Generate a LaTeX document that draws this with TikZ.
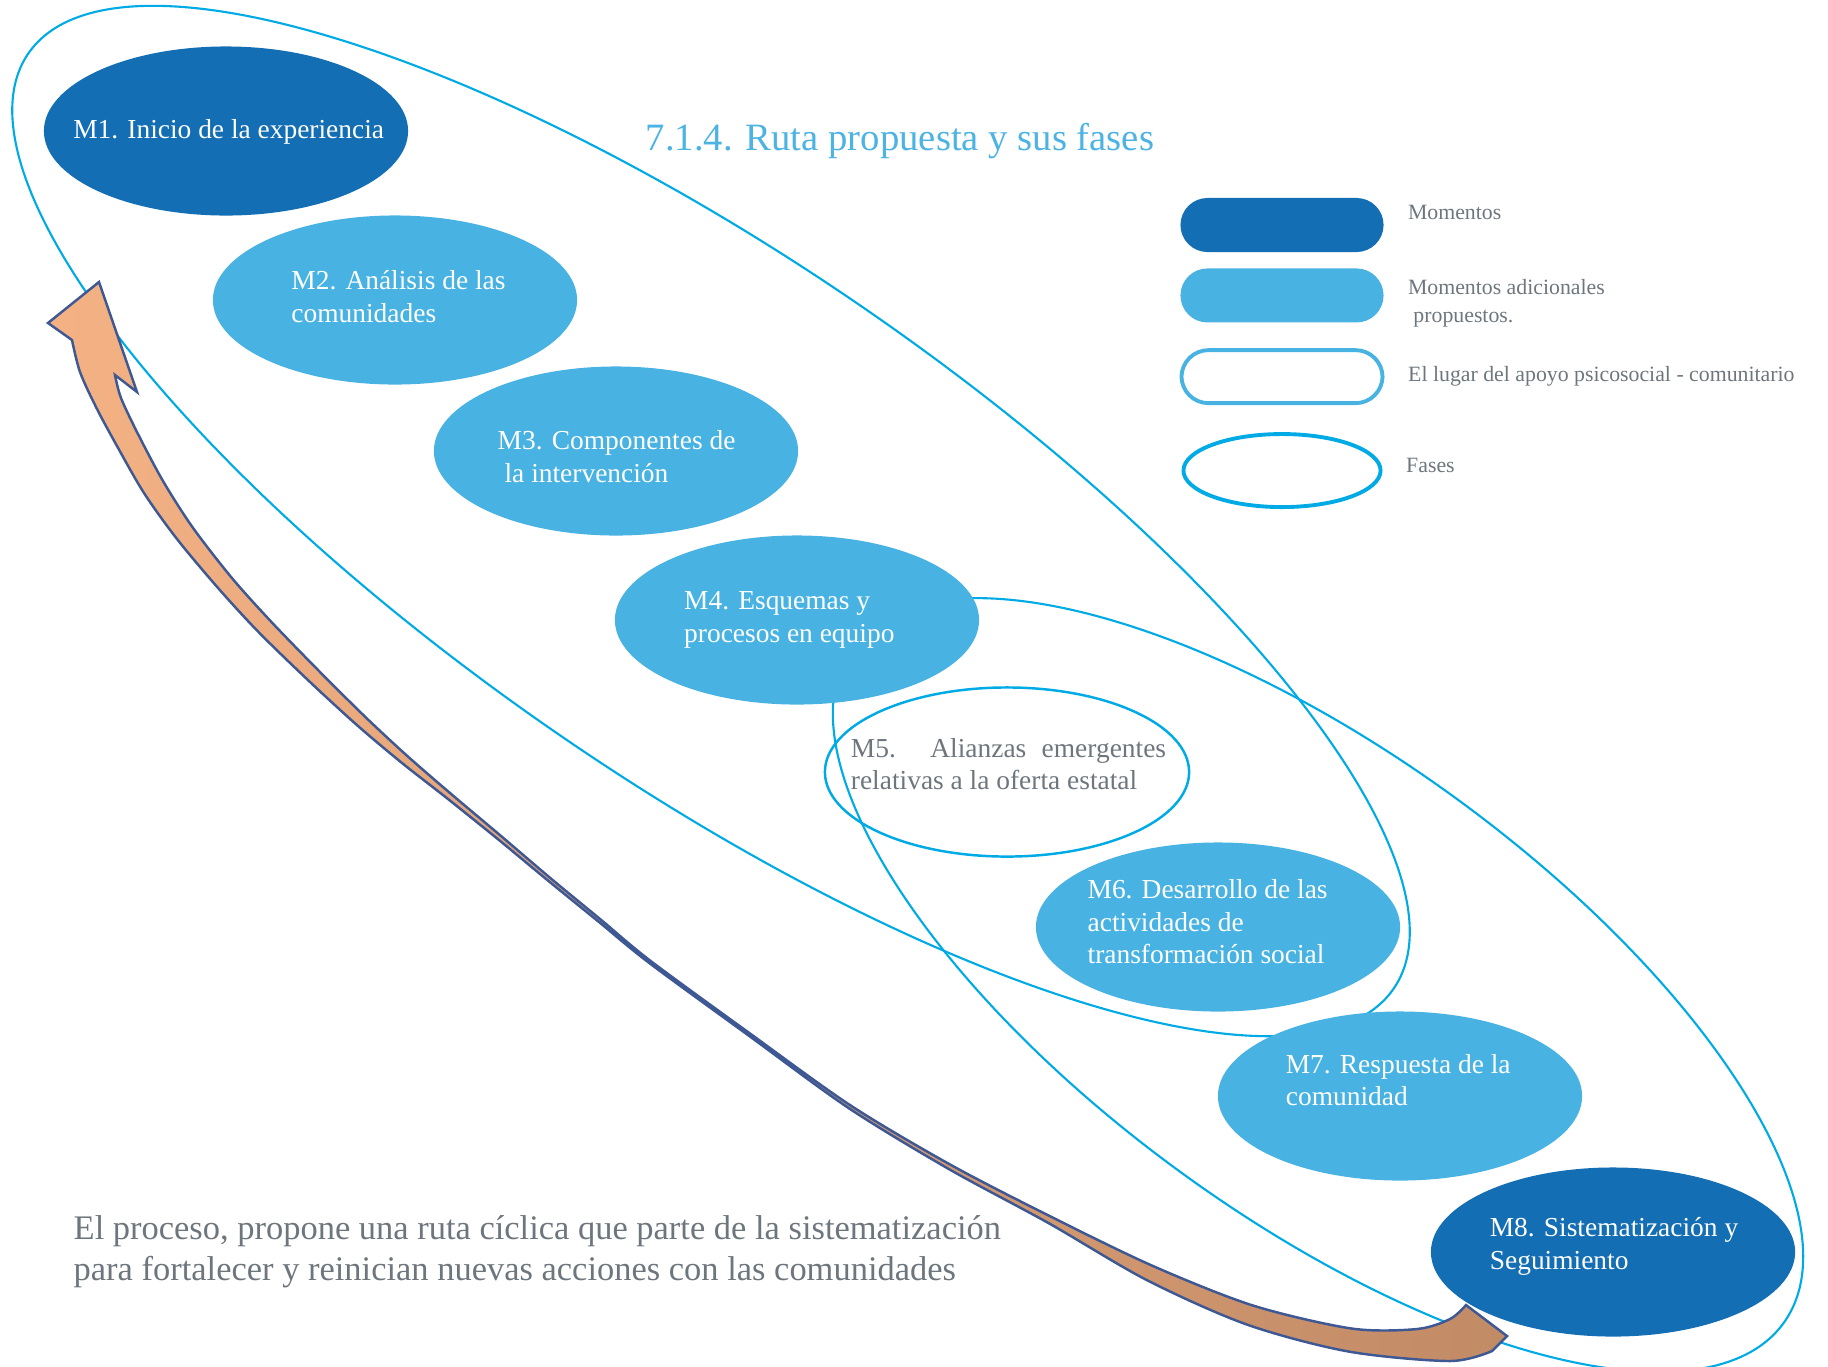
\documentclass[tikz,border=0pt]{standalone}
\usepackage{fontspec}
\setmainfont{Liberation Serif}
\usetikzlibrary{positioning,shapes.geometric}
\definecolor{momento}{RGB}{19,110,180}
\definecolor{adicional}{RGB}{72,179,226}
\definecolor{faseazul}{RGB}{0,170,228}
\definecolor{azultitulo}{RGB}{77,179,227}
\definecolor{gristexto}{RGB}{110,118,125}
\definecolor{flechaclara}{RGB}{244,178,132}
\definecolor{flechaoscura}{RGB}{193,139,102}
\definecolor{flechaborde}{RGB}{62,88,148}
\tikzset{
    mom/.style = {ellipse, fill=momento, text=white, inner sep=0pt,
                 minimum width=3.64cm, minimum height=1.69cm,
                 font=\fontsize{7.8}{9.3}\selectfont},
    momad/.style = {mom, fill=adicional},
    lugar/.style = {mom, fill=none, draw=faseazul, line width=0.7pt, text=gristexto},
    fase/.style = {ellipse, draw=faseazul, line width=0.6pt, inner sep=0pt},
    leyenda/.style = {rectangle, rounded corners=0.27cm, inner sep=0pt,
                 minimum width=2.03cm, minimum height=0.54cm},
    legtext/.style = {font=\fontsize{6.2}{8}\selectfont, text=gristexto, align=left, inner sep=0pt},
    flecha/.style = {draw=flechaborde, line width=0.7pt, line join=miter,
                 left color=flechaclara, right color=flechaoscura},
}
% texto de un momento: borde izquierdo, subida, lineas (la elipse no cambia)
\newcommand{\mtxt}[3]{\makebox[0pt][l]{\hspace*{#1}\raisebox{#2}[0pt][0pt]{\begin{tabular}{@{}l@{}}#3\end{tabular}}}}

\begin{document}
\begin{tikzpicture}[x=0.01cm, y=-0.01cm]
\useasboundingbox (0,0) rectangle (1828,1366);

% fases
\node (faseA) [fase, minimum width=16.54cm, minimum height=5.24cm, rotate=-34.4] at (711,521) {};
\node (faseB) [fase, minimum width=11.5cm, minimum height=4.64cm, rotate=-36] at (1318,985) {};

% flecha del ciclo
\draw[flecha] (99,282) -- (48,323) -- (72,340)
  -- plot[smooth, tension=0.5] coordinates {(72,340) (80,372) (96.5,408) (117,446) (144,493)
     (177,539) (218.5,588.5) (259,632.5) (310,682) (358,726) (402,763) (448,799) (498.6,839.7)
     (549,881.4) (599,922) (649.3,963) (749.3,1036) (849,1108.3) (948.8,1169) (1048.4,1223)
     (1146.7,1280) (1246.8,1324.5) (1348.5,1351.5) (1450,1361) (1492,1351)}
  -- (1507,1336) -- (1466,1305)
  -- plot[smooth, tension=0.5] coordinates {(1466,1305) (1450,1319) (1417,1329) (1351.5,1328.5)
     (1253,1305.5) (1153,1266) (1051.6,1217) (951,1165) (851,1105.7) (750.7,1034) (650.7,961)
     (601,919.8) (551,878.6) (501.4,836.3) (452,794.7) (408,756.6) (366,717.6) (320,672)
     (271,621.5) (231.5,577.5) (192.6,527.3) (163,481) (138,434) (121,398) (115,375)}
  -- (137,392) -- cycle;

\node (titulo) [font=\fontsize{11}{13}\selectfont, text=azultitulo] at (900,141) {7.1.4. Ruta propuesta y sus fases};

\node (m1) [mom] at (226,131) {\mtxt{-1.526cm}{-0.075cm}{M1. Inicio de la experiencia}};
\node (m2) [momad] at (395,300) {\mtxt{-1.035cm}{-0.065cm}{M2. Análisis de las\\comunidades}};
\node (m3) [momad] at (616,451) {\mtxt{-1.182cm}{-0.155cm}{M3. Componentes de\\\ la intervención}};
\node (m4) [momad] at (797,620) {\mtxt{-1.127cm}{-0.065cm}{M4. Esquemas y\\procesos en equipo}};
\node (m5) [lugar] at (1007,772) {\mtxt{-1.56cm}{-0.02cm}{\makebox[3.15cm][s]{M5. Alianzas emergentes}\\relativas a la oferta estatal}};
\node (m6) [momad] at (1218,927) {\mtxt{-1.303cm}{-0.045cm}{M6. Desarrollo de las\\actividades de\\transformación social}};
\node (m7) [momad] at (1400,1096) {\mtxt{-1.141cm}{0.061cm}{M7. Respuesta de la\\comunidad}};
\node (m8) [mom] at (1613,1252) {\mtxt{-1.231cm}{-0.012cm}{M8. Sistematización y\\Seguimiento}};

% leyenda
\node (legmom) [leyenda, fill=momento] at (1282,225) {};
\node (legad) [leyenda, fill=adicional, below=0.15cm of legmom] {};
\node (leglugar) [leyenda, draw=adicional, line width=1.1pt, minimum width=2.01cm, minimum height=0.53cm, below=0.25cm of legad] {};
\node (legfase) [fase, line width=1.1pt, minimum width=1.97cm, minimum height=0.73cm, below=0.27cm of leglugar] {};

\node (legmomtxt) [legtext, right=0.23cm of legmom, yshift=0.13cm] {Momentos};
\node (legadtxt) [legtext, right=0.23cm of legad, yshift=-0.08cm] {Momentos adicionales\\\ propuestos.};
\node (leglugartxt) [legtext, right=0.23cm of leglugar] {El lugar del apoyo psicosocial - comunitario};
\node (legfasetxt) [legtext, right=0.23cm of legfase, yshift=0.05cm] {Fases};

\node (nota) [anchor=west, align=left, text=gristexto, inner sep=0pt,
  font=\fontsize{9.8}{11.7}\selectfont] at (73,1252)
  {El proceso, propone una ruta cíclica que parte de la sistematización\\para fortalecer y reinician nuevas acciones con las comunidades};
\end{tikzpicture}
\end{document}
